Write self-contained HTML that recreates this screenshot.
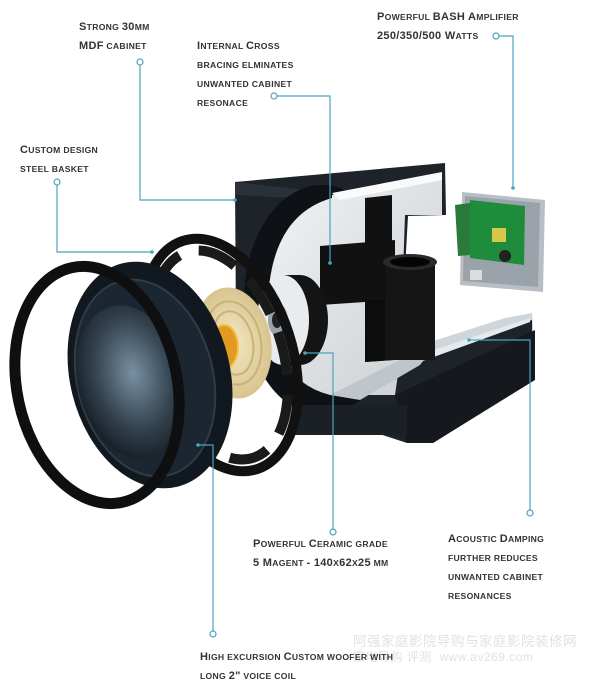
<!DOCTYPE html>
<html><head><meta charset="utf-8"><style>
html,body{margin:0;padding:0;background:#fff;}
body{width:600px;height:687px;position:relative;overflow:hidden;font-family:"Liberation Sans","Noto Sans CJK SC",sans-serif;}
.t{position:absolute;font-size:8.6px;text-transform:uppercase;color:#333;line-height:19px;white-space:nowrap;letter-spacing:0.3px;font-weight:bold;}
.t i{font-style:normal;font-size:11px;}
svg{position:absolute;left:0;top:0;}
.wm{position:absolute;color:#e2e2e2;font-size:13.5px;white-space:nowrap;letter-spacing:0.5px;}
</style></head><body>
<svg width="600" height="687" viewBox="0 0 600 687">
<defs>
<radialGradient id="cone" cx="0.55" cy="0.45" r="0.6"><stop offset="0" stop-color="#7890a3"/><stop offset="0.6" stop-color="#34434f"/><stop offset="1" stop-color="#141b22"/></radialGradient>
<radialGradient id="sp" cx="0.5" cy="0.5" r="0.5"><stop offset="0" stop-color="#f4e8c2"/><stop offset="1" stop-color="#d8c48e"/></radialGradient>
<linearGradient id="wh" x1="0" y1="0" x2="1" y2="1"><stop offset="0" stop-color="#f2f4f5"/><stop offset="1" stop-color="#c9ced2"/></linearGradient>
</defs>
<!-- cabinet -->
<polygon points="235,182 445,163 446,215 408,216 400,360 532,313 533,380 433,443 407,443 290,405 236,330" fill="#1d2329"/>
<polygon points="235,182 332,193 332,200 236,195" fill="#2a3138"/>
<ellipse cx="322" cy="300" rx="78" ry="115" fill="#0e1216"/>
<path d="M332,195 L442,173 L442,215 L405,215 L400,360 L395,395 L330,395 Q272,380 268,300 Q272,215 332,198 Z" fill="url(#wh)"/>
<polygon points="332,193 442,172 442,180 340,200" fill="#fafafa"/>
<!-- bottom tray -->
<polygon points="405,350 505,318 532,313 532,320 430,352 410,358" fill="#cfd6db"/>
<polygon points="410,358 530,318 530,322 420,362" fill="#e6eaec"/>
<polygon points="330,395 400,360 430,352 420,365 360,400" fill="#bfc5ca"/>
<polygon points="395,395 535,330 535,380 433,443 407,443" fill="#15191d"/>
<rect x="295" y="405" width="112" height="30" fill="#1a2026"/>
<!-- cross brace -->
<polygon points="365,198 392,195 392,360 365,362" fill="#111"/>
<polygon points="320,246 395,240 395,300 320,305" fill="#111"/>
<polygon points="365,300 395,300 395,360 365,362" fill="#0c0c0c"/>
<!-- port -->
<rect x="385" y="262" width="50" height="98" fill="#151515"/>
<ellipse cx="410" cy="262" rx="27" ry="8" fill="#2a2a2a"/>
<ellipse cx="410" cy="262" rx="20" ry="5" fill="#050505"/>
<!-- magnet -->
<ellipse cx="300" cy="320" rx="28" ry="45" fill="#141414"/>
<rect x="283" y="275" width="17" height="90" fill="#141414"/>
<ellipse cx="283" cy="320" rx="26" ry="45" fill="#e8ecee"/>
<ellipse cx="278" cy="320" rx="10" ry="16" fill="#9aa2a8"/>
<ellipse cx="277" cy="320" rx="5" ry="8" fill="#222"/>
<!-- amp -->
<polygon points="462,192 545,200 543,292 460,285" fill="#b8bec3"/>
<polygon points="465,196 540,203 538,287 463,281" fill="#9ba3aa"/>
<polygon points="470,200 525,206 524,265 470,258" fill="#1e8c3a"/>
<polygon points="455,205 470,203 470,255 458,256" fill="#2a7a3a"/>
<rect x="492" y="228" width="14" height="14" fill="#d8c84a"/>
<circle cx="505" cy="256" r="6" fill="#222"/>
<rect x="470" y="270" width="12" height="10" fill="#ddd"/>
<!-- basket frame -->
<ellipse cx="220" cy="355" rx="72" ry="120" transform="rotate(-18 220 355)" fill="none" stroke="#111" stroke-width="10"/>
<ellipse cx="220" cy="355" rx="62" ry="108" transform="rotate(-18 220 355)" fill="none" stroke="#1a1a1a" stroke-width="10" stroke-dasharray="40 20"/>
<!-- spider -->
<ellipse cx="233" cy="343" rx="38" ry="56" transform="rotate(-10 233 343)" fill="url(#sp)"/>
<ellipse cx="233" cy="343" rx="28" ry="42" transform="rotate(-10 233 343)" fill="none" stroke="#c7b27a" stroke-width="2"/>
<ellipse cx="233" cy="343" rx="20" ry="32" transform="rotate(-10 233 343)" fill="none" stroke="#c7b27a" stroke-width="2"/>
<ellipse cx="224" cy="347" rx="14" ry="22" fill="#e39a20" stroke="#f5c04a" stroke-width="2"/>
<!-- cone assembly -->
<ellipse cx="150" cy="375" rx="80" ry="115" transform="rotate(-14 150 375)" fill="#111820"/>
<ellipse cx="145" cy="378" rx="68" ry="100" transform="rotate(-14 145 378)" fill="#1c2630" stroke="#2f3b46" stroke-width="2"/>
<ellipse cx="130" cy="382" rx="52" ry="78" transform="rotate(-14 130 382)" fill="url(#cone)"/>
<!-- outer ring -->
<ellipse cx="97" cy="385" rx="80" ry="120" transform="rotate(-12 97 385)" fill="none" stroke="#0d0f11" stroke-width="11"/>
<!-- connectors -->
<g fill="none" stroke="#4aa3c0" stroke-width="1.2">
<polyline points="140,65 140,200 235,200"/><circle cx="140" cy="62" r="3" fill="#fff"/>
<polyline points="277,96 330,96 330,263"/><circle cx="274" cy="96" r="3" fill="#fff"/>
<polyline points="499,36 513,36 513,188"/><circle cx="496" cy="36" r="3" fill="#fff"/>
<polyline points="57,185 57,252 152,252"/><circle cx="57" cy="182" r="3" fill="#fff"/>
<polyline points="305,353 333,353 333,529"/><circle cx="333" cy="532" r="3" fill="#fff"/>
<polyline points="469,340 530,340 530,510"/><circle cx="530" cy="513" r="3" fill="#fff"/>
<polyline points="198,445 213,445 213,631"/><circle cx="213" cy="634" r="3" fill="#fff"/>
</g>
<g fill="#4aa3c0"><circle cx="235" cy="200" r="1.8"/><circle cx="330" cy="263" r="1.8"/><circle cx="513" cy="188" r="1.8"/><circle cx="152" cy="252" r="1.8"/><circle cx="305" cy="353" r="1.8"/><circle cx="469" cy="340" r="1.8"/><circle cx="198" cy="445" r="1.8"/></g>
</svg>
<div class="t" style="left:79px;top:18px;"><i>S</i>trong <i>30</i>mm<br><i>MDF</i> cabinet</div>
<div class="t" style="left:197px;top:37px;"><i>I</i>nternal <i>C</i>ross<br>bracing elminates<br>unwanted cabinet<br>resonace</div>
<div class="t" style="left:377px;top:8px;"><i>P</i>owerful <i>BASH A</i>mplifier<br><i>250/350/500 W</i>atts</div>
<div class="t" style="left:20px;top:141px;"><i>C</i>ustom design<br>steel basket</div>
<div class="t" style="left:253px;top:535px;"><i>P</i>owerful <i>C</i>eramic grade<br><i>5 M</i>agent <i>- 140</i>x<i>62</i>x<i>25</i> mm</div>
<div class="t" style="left:448px;top:530px;"><i>A</i>coustic <i>D</i>amping<br>further reduces<br>unwanted cabinet<br>resonances</div>
<div class="wm" style="left:353px;top:630px;">阿强家庭影院导购与家庭影院装修网</div>
<div class="wm" style="left:353px;top:648px;font-size:12px;">家电导购 评测 &nbsp;www.av269.com</div>
<div class="t" style="left:200px;top:648px;"><i>H</i>igh excursion <i>C</i>ustom woofer with<br>long <i>2"</i> voice coil</div>
</body></html>
